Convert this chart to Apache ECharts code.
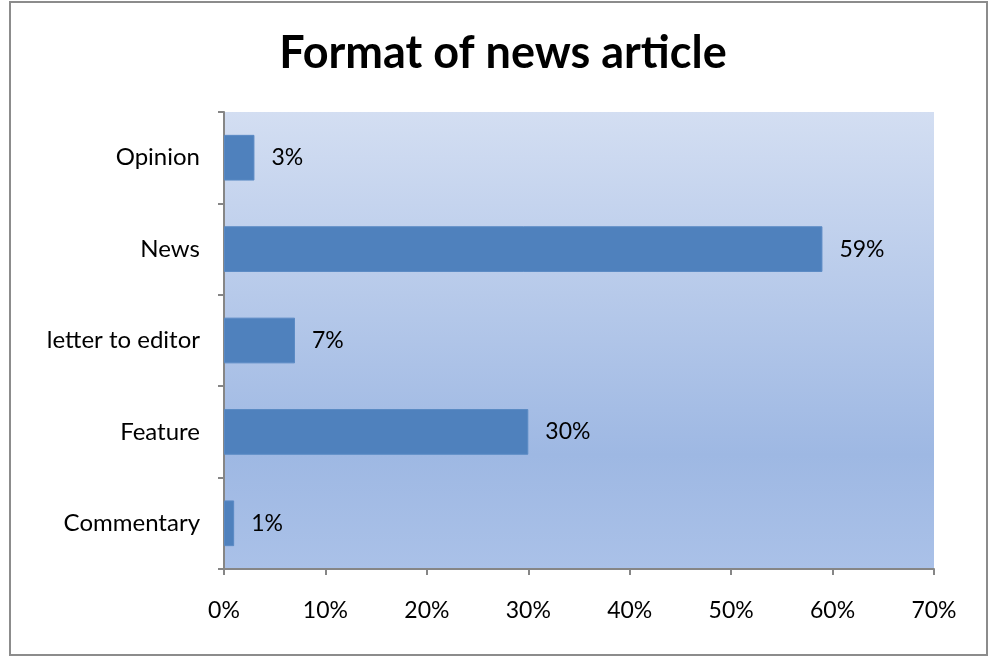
<!DOCTYPE html>
<html>
<head>
<meta charset="utf-8">
<script src="https://cdn.jsdelivr.net/npm/echarts@6/dist/echarts.min.js"></script>
<style>
html,body{margin:0;padding:0;background:#fff;}
#frame{position:absolute;left:9px;top:1px;width:975px;height:651px;border:2px solid #8c8c8c;}
#c{position:absolute;left:0;top:0;width:988px;height:656px;}
</style>
</head>
<body>
<div id="frame"></div>
<div id="c"></div>
<script>
const titleText = 'Format of news article';
const categories = ['Commentary', 'Feature', 'letter to editor', 'News', 'Opinion'];
const values = [1, 30, 7, 59, 3];
const xTicks = [0, 10, 20, 30, 40, 50, 60, 70];

const chart = echarts.init(document.getElementById('c'));
const font = 'Lato, "Open Sans", sans-serif';
chart.setOption({
  animation: false,
  title: {
    text: titleText,
    left: 498, textAlign: 'center', top: 26,
    textStyle: {fontFamily: font, fontWeight: 'bold', fontSize: 45, color: '#000'}
  },
  grid: {
    left: 224, top: 112, right: 54, bottom: 87,
    show: true, borderWidth: 0,
    backgroundColor: new echarts.graphic.LinearGradient(0, 0, 0, 1, [
      {offset: 0, color: '#d3def2'},
      {offset: 0.75, color: '#9eb8e3'},
      {offset: 1, color: '#aac1e8'}
    ])
  },
  xAxis: {
    type: 'value', min: 0, max: 70, interval: 10,
    axisLine: {show: true, lineStyle: {color: '#868686', width: 2}},
    axisTick: {show: true, length: 6, lineStyle: {color: '#868686', width: 2}},
    splitLine: {show: false},
    axisLabel: {
      margin: 30, color: '#000', fontFamily: font, fontSize: 23,
      formatter: v => xTicks.includes(v) ? v + '%' : ''
    }
  },
  yAxis: {
    type: 'category', data: categories,
    axisLine: {show: true, lineStyle: {color: '#868686', width: 2}},
    axisTick: {show: true, length: 6, lineStyle: {color: '#868686', width: 2}},
    axisLabel: {margin: 24, color: '#000', fontFamily: font, fontSize: 24}
  },
  series: [{
    type: 'bar', data: values, barWidth: '50%',
    itemStyle: {color: '#4f81bd', borderColor: '#5a8ac4', borderWidth: 1},
    label: {
      show: true, position: 'right', distance: 17,
      formatter: p => p.value + '%',
      color: '#000', fontFamily: font, fontSize: 23
    }
  }]
});
</script>
</body>
</html>
